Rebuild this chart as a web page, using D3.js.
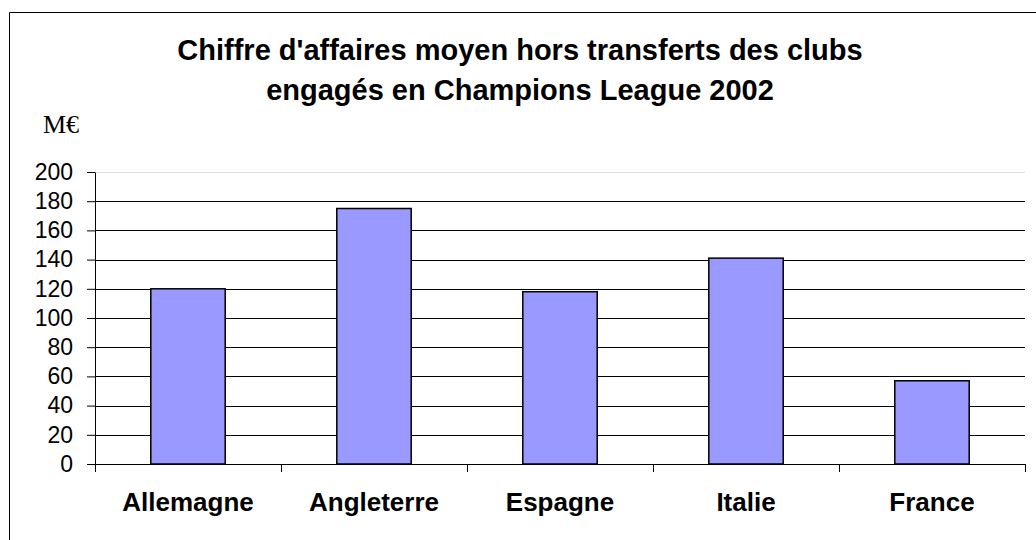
<!DOCTYPE html>
<html>
<head>
<meta charset="utf-8">
<script src="https://cdn.jsdelivr.net/npm/d3@7"></script>
<style>
  body { margin: 0; background: #fff; }
  svg { display: block; }
</style>
</head>
<body>
<div id="chart"></div>
<script>
var categories = ["Allemagne", "Angleterre", "Espagne", "Italie", "France"];
var values = [120, 175, 118, 141, 57];
var yTicks = [0, 20, 40, 60, 80, 100, 120, 140, 160, 180, 200];
var titleLines = ["Chiffre d'affaires moyen hors transferts des clubs", "engagés en Champions League 2002"];
var unitLabel = "M€";

var W = 1036, H = 540;
var margin = {top: 172, left: 95, right: 11, bottom: 76};
var width = W - margin.left - margin.right,
    height = H - margin.top - margin.bottom;

var svg = d3.select("#chart").append("svg")
    .attr("width", W)
    .attr("height", H);

// outer frame (only left and top visible in the crop)
svg.append("path")
    .attr("d", "M9.5," + H + "V12.5H" + W)
    .attr("fill", "none")
    .attr("stroke", "#000")
    .attr("stroke-width", 1);

// title
svg.append("text")
    .attr("x", 520)
    .attr("y", 60)
    .attr("text-anchor", "middle")
    .style("font-family", "Liberation Sans, Arial, sans-serif")
    .style("font-weight", "bold")
    .style("font-size", "29px")
    .selectAll("tspan")
    .data(titleLines)
    .enter().append("tspan")
      .attr("x", 520)
      .attr("dy", function(d, i) { return i === 0 ? 0 : 40; })
      .text(function(d) { return d; });

svg.append("text")
    .attr("x", 43)
    .attr("y", 133)
    .style("font-family", "Liberation Serif, Times New Roman, serif")
    .style("font-size", "26px")
    .text(unitLabel);

var g = svg.append("g")
    .attr("transform", "translate(" + margin.left + "," + margin.top + ")");

var x = d3.scaleBand()
    .domain(categories)
    .range([0, width]);

var y = d3.scaleLinear()
    .domain([0, 200])
    .range([height, 0]);

// gridlines
g.selectAll(".grid")
    .data(yTicks.filter(function(d) { return d > 0; }))
    .enter().append("line")
      .attr("class", "grid")
      .attr("x1", 0)
      .attr("x2", width)
      .attr("y1", function(d) { return Math.round(y(d)) + 0.5; })
      .attr("y2", function(d) { return Math.round(y(d)) + 0.5; })
      .attr("stroke", function(d) { return d === 200 ? "#ddd" : "#000"; })
      .attr("stroke-width", 1);

// bars
var bw = x.bandwidth() * 0.4;
g.selectAll(".bar")
    .data(values)
    .enter().append("rect")
      .attr("class", "bar")
      .attr("x", function(d, i) { return x(categories[i]) + (x.bandwidth() - bw) / 2; })
      .attr("width", bw)
      .attr("y", function(d) { return y(d); })
      .attr("height", function(d) { return height - y(d); })
      .attr("fill", "#9999ff")
      .attr("stroke", "#000")
      .attr("stroke-width", 1.5);

// y axis
var yAxis = g.append("g")
    .call(d3.axisLeft(y).tickValues(yTicks).tickSize(8).tickPadding(14).tickSizeOuter(0));
yAxis.selectAll("text")
    .style("font-family", "Liberation Sans, Arial, sans-serif")
    .style("font-size", "23px")
    .attr("fill", "#000");
yAxis.select(".domain").attr("stroke", "#000");

// x axis with ticks between categories
var xAxis = g.append("g")
    .attr("transform", "translate(0," + height + ")");
xAxis.append("line")
    .attr("x1", 0).attr("x2", width)
    .attr("y1", 0.5).attr("y2", 0.5)
    .attr("stroke", "#000");
xAxis.selectAll(".xtick")
    .data(categories.concat([null]))
    .enter().append("line")
      .attr("class", "xtick")
      .attr("x1", function(d, i) { return Math.round(i * x.step()) + 0.5; })
      .attr("x2", function(d, i) { return Math.round(i * x.step()) + 0.5; })
      .attr("y1", 0)
      .attr("y2", 8)
      .attr("stroke", "#000");
xAxis.selectAll(".xlabel")
    .data(categories)
    .enter().append("text")
      .attr("class", "xlabel")
      .attr("x", function(d) { return x(d) + x.bandwidth() / 2; })
      .attr("y", 47)
      .attr("text-anchor", "middle")
      .style("font-family", "Liberation Sans, Arial, sans-serif")
      .style("font-weight", "bold")
      .style("font-size", "26px")
      .text(function(d) { return d; });
</script>
</body>
</html>
